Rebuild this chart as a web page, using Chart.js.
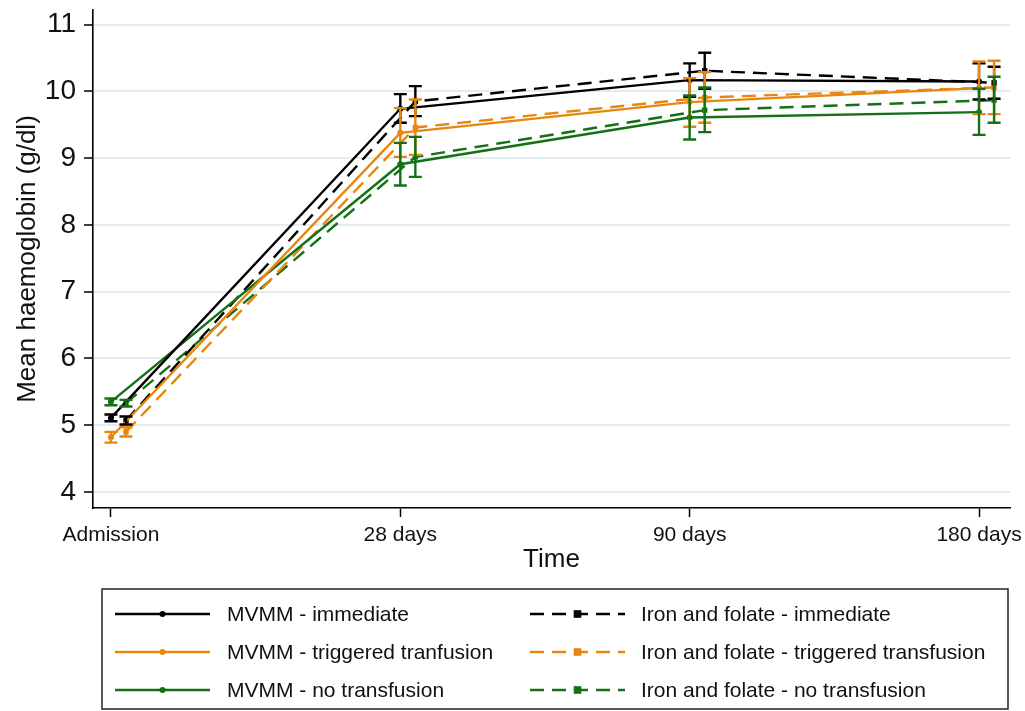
<!DOCTYPE html>
<html>
<head>
<meta charset="utf-8">
<script src="https://cdn.jsdelivr.net/npm/chart.js@4.4.1/dist/chart.umd.min.js"></script>
<style>
  html, body { margin: 0; padding: 0; background: #fff; }
  #wrap { width: 1025px; height: 711px; position: relative; }
</style>
</head>
<body>
<div id="wrap"><canvas id="c"></canvas></div>
<script>
// Time points and y-axis ticks
const timeLabels = ['Admission', '28 days', '90 days', '180 days'];
const yTicks = [4, 5, 6, 7, 8, 9, 10, 11];

// Mean haemoglobin (g/dl) with 95% CI, per arm
const mvmmImmediate   = [5.11, 9.74, 10.17, 10.15];
const mvmmImmediateLo = [5.06, 9.53, 9.92, 9.88];
const mvmmImmediateHi = [5.16, 9.96, 10.42, 10.42];

const mvmmTriggered   = [4.82, 9.38, 9.84, 10.05];
const mvmmTriggeredLo = [4.74, 9.02, 9.47, 9.66];
const mvmmTriggeredHi = [4.90, 9.75, 10.20, 10.45];

const mvmmNone   = [5.35, 8.91, 9.61, 9.69];
const mvmmNoneLo = [5.30, 8.59, 9.28, 9.35];
const mvmmNoneHi = [5.40, 9.23, 9.94, 10.04];

const ironImmediate   = [5.07, 9.85, 10.31, 10.13];
const ironImmediateLo = [5.01, 9.63, 10.04, 9.89];
const ironImmediateHi = [5.13, 10.08, 10.58, 10.37];

const ironTriggered   = [4.90, 9.46, 9.91, 10.06];
const ironTriggeredLo = [4.83, 9.05, 9.53, 9.66];
const ironTriggeredHi = [4.97, 9.88, 10.29, 10.46];

const ironNone   = [5.33, 9.02, 9.72, 9.87];
const ironNoneLo = [5.28, 8.72, 9.39, 9.53];
const ironNoneHi = [5.38, 9.32, 10.06, 10.22];

const BLACK = '#000000', ORANGE = '#E8870F', GREEN = '#137015';
const FONT = '"Liberation Sans", Arial, sans-serif';
const IRON_SHIFT = 0.052; // iron & folate arms drawn slightly right of each time point
const DASH = [14, 8];
const LINE_W = 2.4;

function points(mean, lo, hi, shift) {
  return mean.map((v, i) => ({ x: i + shift, y: v, lo: lo[i], hi: hi[i] }));
}

function series(label, color, mean, lo, hi, iron) {
  return {
    label,
    data: points(mean, lo, hi, iron ? IRON_SHIFT : 0),
    borderColor: color,
    backgroundColor: color,
    borderWidth: LINE_W,
    borderDash: iron ? DASH : [],
    pointStyle: iron ? 'rect' : 'circle',
    pointRadius: iron ? 3.8 : 3,
    pointBorderWidth: 0,
    tension: 0,
    fill: false
  };
}

const datasets = [
  series('MVMM - immediate', BLACK, mvmmImmediate, mvmmImmediateLo, mvmmImmediateHi, false),
  series('MVMM - triggered tranfusion', ORANGE, mvmmTriggered, mvmmTriggeredLo, mvmmTriggeredHi, false),
  series('MVMM - no transfusion', GREEN, mvmmNone, mvmmNoneLo, mvmmNoneHi, false),
  series('Iron and folate - immediate', BLACK, ironImmediate, ironImmediateLo, ironImmediateHi, true),
  series('Iron and folate - triggered transfusion', ORANGE, ironTriggered, ironTriggeredLo, ironTriggeredHi, true),
  series('Iron and folate - no transfusion', GREEN, ironNone, ironNoneLo, ironNoneHi, true)
];

// Vertical CI bars with caps
const errorBars = {
  id: 'errorBars',
  afterDatasetsDraw(chart) {
    const { ctx, scales: { x, y } } = chart;
    chart.data.datasets.forEach((ds, i) => {
      if (!chart.isDatasetVisible(i)) return;
      ctx.save();
      ctx.strokeStyle = ds.borderColor;
      ctx.lineWidth = LINE_W;
      ctx.setLineDash([]);
      ds.data.forEach(p => {
        const px = x.getPixelForValue(p.x);
        const pl = y.getPixelForValue(p.lo);
        const ph = y.getPixelForValue(p.hi);
        ctx.beginPath();
        ctx.moveTo(px, pl); ctx.lineTo(px, ph);
        ctx.moveTo(px - 6.5, pl); ctx.lineTo(px + 6.5, pl);
        ctx.moveTo(px - 6.5, ph); ctx.lineTo(px + 6.5, ph);
        ctx.stroke();
      });
      ctx.restore();
    });
  }
};

// Boxed two-column legend under the plot
const boxLegend = {
  id: 'boxLegend',
  afterDraw(chart) {
    const ctx = chart.ctx;
    const L = 102, T = 589, R = 1008, B = 709;
    ctx.save();
    ctx.strokeStyle = '#222';
    ctx.lineWidth = 1.5;
    ctx.setLineDash([]);
    ctx.strokeRect(L, T, R - L, B - T);
    const rows = [614, 652, 690];
    const cols = [{ x0: 115, x1: 210, tx: 227 }, { x0: 530, x1: 625, tx: 641 }];
    chart.data.datasets.forEach((ds, i) => {
      const c = cols[Math.floor(i / 3)];
      const yy = rows[i % 3];
      ctx.strokeStyle = ds.borderColor;
      ctx.lineWidth = LINE_W;
      ctx.setLineDash(ds.borderDash || []);
      ctx.beginPath();
      ctx.moveTo(c.x0, yy); ctx.lineTo(c.x1, yy);
      ctx.stroke();
      ctx.setLineDash([]);
      const mx = (c.x0 + c.x1) / 2;
      ctx.fillStyle = ds.borderColor;
      if (ds.pointStyle === 'rect') {
        ctx.fillRect(mx - 3.8, yy - 3.8, 7.6, 7.6);
      } else {
        ctx.beginPath(); ctx.arc(mx, yy, 3, 0, Math.PI * 2); ctx.fill();
      }
      ctx.fillStyle = '#111';
      ctx.font = '21px ' + FONT;
      ctx.textAlign = 'left';
      ctx.textBaseline = 'middle';
      ctx.fillText(ds.label, c.tx, yy + 1);
    });
    ctx.restore();
  }
};

new Chart(document.getElementById('c'), {
  type: 'line',
  data: { datasets },
  plugins: [errorBars, boxLegend],
  options: {
    responsive: true,
    maintainAspectRatio: false,
    animation: false,
    devicePixelRatio: 1,
    layout: { padding: { left: 0, right: 15, top: 10, bottom: 133 } },
    plugins: { legend: { display: false }, tooltip: { enabled: false } },
    scales: {
      x: {
        type: 'linear',
        min: -0.062,
        max: 3.107,
        afterBuildTicks: s => { s.ticks = timeLabels.map((_, i) => ({ value: i })); },
        afterFit: s => { s.height = 70; s.paddingLeft = 0; s.paddingRight = 0; },
        ticks: {
          callback: v => timeLabels[v],
          color: '#111',
          font: { family: FONT, size: 21 },
          padding: 6,
          maxRotation: 0,
          autoSkip: false
        },
        grid: { drawOnChartArea: false, tickColor: '#000', tickLength: 9, tickWidth: 1.5 },
        border: { color: '#000', width: 1.6 },
        title: {
          display: true,
          text: 'Time',
          color: '#111',
          font: { family: FONT, size: 26 },
          padding: { top: 0, bottom: 3 }
        }
      },
      y: {
        min: 3.76,
        max: 11.22,
        afterBuildTicks: s => { s.ticks = yTicks.map(v => ({ value: v })); },
        afterFit: s => { s.width = 93; s.paddingTop = 0; s.paddingBottom = 0; },
        ticks: {
          color: '#111',
          font: { family: FONT, size: 28 },
          padding: 8
        },
        grid: { color: '#e3ecef', lineWidth: 2, tickColor: '#000', tickLength: 9, tickWidth: 1.5 },
        border: { color: '#000', width: 1.6 },
        title: {
          display: true,
          text: 'Mean haemoglobin (g/dl)',
          color: '#111',
          font: { family: FONT, size: 26 },
          padding: { top: 12, bottom: 0 }
        }
      }
    }
  }
});
</script>
</body>
</html>
